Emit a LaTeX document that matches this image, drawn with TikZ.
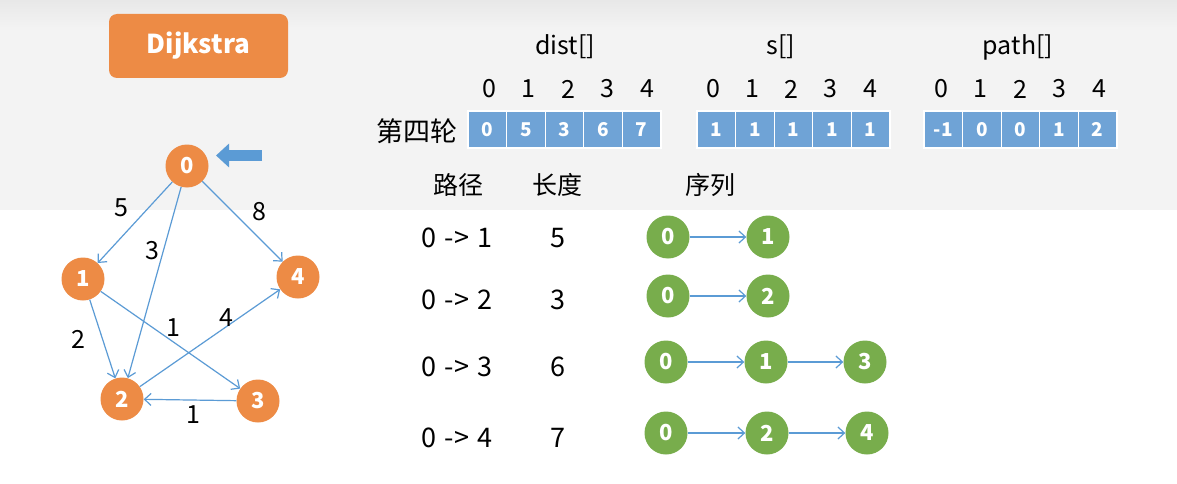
\documentclass[tikz,border=0pt]{standalone}
\usepackage{fontspec}
\setmainfont{Noto Sans CJK SC}
\usetikzlibrary{arrows.meta}
\definecolor{vorange}{HTML}{ED8B45}
\definecolor{vgreen}{HTML}{78AD4C}
\definecolor{eblue}{HTML}{5B9BD5}
\definecolor{cblue}{HTML}{6FA3D6}
\definecolor{bandgray}{HTML}{F3F3F3}
\newcommand{\gap}{\hspace{0.3em}}
\tikzset{vnode/.style={circle,fill=vorange,text=white,inner sep=0pt,minimum size=43pt,
           font=\bfseries\fontsize{22}{22}\selectfont},
         snode/.style={vnode,fill=vgreen},
         edge/.style={draw=eblue,line width=1.2pt,-{Straight Barb[length=6.5pt,width=12pt]}},
         wlabel/.style={font=\fontsize{25}{25}\selectfont},
         idx/.style={font=\fontsize{25}{25}\selectfont},
         cell/.style={draw=white,line width=1.2pt,fill=cblue,text=white,inner sep=0pt,
           minimum width=38.6pt,minimum height=37pt,font=\bfseries\fontsize{19}{19}\selectfont},
         head/.style={font=\fontsize{25}{25}\selectfont},
         rowtext/.style={font=\fontsize{27}{27}\selectfont},
         titlebox/.style={fill=vorange,text=white,rounded corners=8pt,minimum width=179pt,
           minimum height=64pt,font=\bfseries\fontsize{26}{26}\selectfont},
         pointer/.style={draw=eblue,line width=11pt,-{Triangle[length=13pt,width=23pt]}}}

\begin{document}
\begin{tikzpicture}[x=1pt,y=-1pt]
\useasboundingbox[fill=white] (0,0) rectangle (1177,484);
\fill[bandgray] (0,0) rectangle (1177,210);
\shade[top color=black!9,bottom color=bandgray] (0,0) rectangle (1177,28);
% title
\node[titlebox] (title) at (198.5,46) {Dijkstra};
% graph
\node[vnode] (v0) at (187,166) {0};
\node[vnode] (v1) at (83,279) {1};
\node[vnode] (v4) at (298,277) {4};
\node[vnode] (v2) at (122,399) {2};
\node[vnode] (v3) at (258,401) {3};
\draw[edge] (v0) -- (v1);
\draw[edge] (v0) -- (v2);
\draw[edge] (v0) -- (v4);
\draw[edge] (v1) -- (v2);
\draw[edge] (v1) -- (v3);
\draw[edge] (v2) -- (v4);
\draw[edge] (v3) -- (v2);
\node[wlabel] (w01) at (121,208) {5};
\node[wlabel] (w02) at (152,251) {3};
\node[wlabel] (w04) at (259,212) {8};
\node[wlabel] (w12) at (78,339) {2};
\node[wlabel] (w13) at (173,328) {1};
\node[wlabel] (w24) at (226,318) {4};
\node[wlabel] (w32) at (193,415) {1};
\coordinate (ptr) at (262,155.5);
\draw[pointer] (ptr) -- ++(-46,0);
% arrays
\node[head] (hdist) at (565,47) {dist[]};
\node[head] (hs) at (781,47) {s[]};
\node[head] (hpath) at (1018,47) {path[]};
\node[rowtext] (round) at (417,131) {第四轮};
\foreach \v [count=\i from 0] in {0,5,3,6,7}
  \node[cell] (d\i) at (487.3+38.6*\i,129.5) {\v};
\foreach \v [count=\i from 0] in {1,1,1,1,1}
  \node[cell] (s\i) at (716.3+38.6*\i,129.5) {\v};
\foreach \v [count=\i from 0] in {-1,0,0,1,2}
  \node[cell] (p\i) at (943.3+38.6*\i,129.5) {\v};
\foreach \i in {0,...,4} {
  \node[idx] (di\i) at (489+39.5*\i,89) {\i};
  \node[idx] (si\i) at (713+39.3*\i,89) {\i};
  \node[idx] (pi\i) at (941+39.5*\i,89) {\i};
}
% paths
\node[head] (hroute) at (458,185) {路径};
\node[head] (hlen) at (557,185) {长度};
\node[head] (hseq) at (710,185) {序列};
\node[rowtext] (r1) at (457,238) {0\gap->\gap1};
\node[rowtext] (r2) at (457,300) {0\gap->\gap2};
\node[rowtext] (r3) at (457,367) {0\gap->\gap3};
\node[rowtext] (r4) at (457,438) {0\gap->\gap4};
\node[rowtext] (l1) at (558,238) {5};
\node[rowtext] (l2) at (558,300) {3};
\node[rowtext] (l3) at (558,367) {6};
\node[rowtext] (l4) at (558,438) {7};
\node[snode] (a0) at (668,237) {0};
\node[snode] (a1) at (768,237) {1};
\node[snode] (b0) at (668,296) {0};
\node[snode] (b2) at (768,296) {2};
\node[snode] (c0) at (666,362) {0};
\node[snode] (c1) at (766,362) {1};
\node[snode] (c3) at (865,362) {3};
\node[snode] (e0) at (666,433) {0};
\node[snode] (e2) at (767,433) {2};
\node[snode] (e4) at (867,433) {4};
\draw[edge] (a0) -- (a1);
\draw[edge] (b0) -- (b2);
\draw[edge] (c0) -- (c1);
\draw[edge] (c1) -- (c3);
\draw[edge] (e0) -- (e2);
\draw[edge] (e2) -- (e4);
\end{tikzpicture}
\end{document}
